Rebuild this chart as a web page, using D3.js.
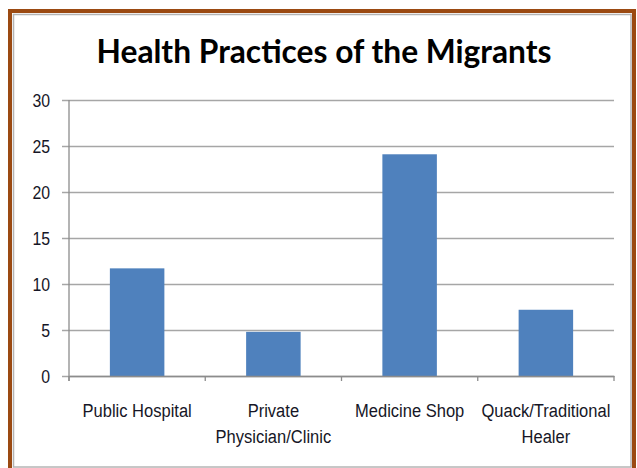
<!DOCTYPE html>
<html>
<head>
<meta charset="utf-8">
<script src="https://cdn.jsdelivr.net/npm/d3@7"></script>
<style>
  html, body { margin: 0; padding: 0; background: #fff; }
  svg { display: block; }
</style>
</head>
<body>
<svg id="chart" width="637" height="468"></svg>
<script>
const title = "Health Practices of the Migrants";
const categories = ["Public Hospital", "Private Physician/Clinic", "Medicine Shop", "Quack/Traditional Healer"];
const categoryLines = [["Public Hospital"], ["Private", "Physician/Clinic"], ["Medicine Shop"], ["Quack/Traditional", "Healer"]];
const values = [11.7, 4.8, 24.1, 7.2];
const yTicks = [0, 5, 10, 15, 20, 25, 30];

const svg = d3.select("#chart");
const W = 637, H = 468;

// frame
svg.append("rect").attr("x", 0).attr("y", 0).attr("width", W).attr("height", H).attr("fill", "#fff");
svg.append("rect").attr("x", 10).attr("y", 11).attr("width", 624).attr("height", 470)
  .attr("fill", "none").attr("stroke", "#9b4a12").attr("stroke-width", 4);
svg.append("rect").attr("x", 13.5).attr("y", 14.5).attr("width", 617.5).attr("height", 452.5)
  .attr("fill", "none").attr("stroke", "#b4b4b4").attr("stroke-width", 1.5);

const plot = { left: 69, right: 614, top: 100, bottom: 376 };

const x = d3.scaleBand().domain(categories).range([plot.left, plot.right]).paddingInner(0.6).paddingOuter(0.3);
const xb = d3.scaleBand().domain(categories).range([plot.left, plot.right]);
const y = d3.scaleLinear().domain([0, 30]).range([plot.bottom, plot.top]);

const font = "'Liberation Sans', Arial, sans-serif";
const textColor = "#161626";

// gridlines + y ticks
const yAxis = d3.axisLeft(y).tickValues(yTicks).tickSize(plot.right - plot.left + 7).tickFormat("");
const gy = svg.append("g").attr("transform", `translate(${plot.right},0)`).call(yAxis);
gy.select(".domain").remove();
gy.selectAll(".tick line").attr("stroke", "#a6a6a6").attr("stroke-width", 1.3);

// y axis line
svg.append("line").attr("x1", plot.left).attr("x2", plot.left).attr("y1", plot.top).attr("y2", plot.bottom + 5)
  .attr("stroke", "#8c8c8c").attr("stroke-width", 1.3);

// y tick labels
const yl = svg.append("g");
yTicks.forEach(t => {
  yl.append("text")
    .attr("transform", `translate(50,${y(t) + 6.5}) scale(0.88,1)`)
    .attr("text-anchor", "end")
    .attr("font-family", font).attr("font-size", 18).attr("fill", textColor)
    .text(t);
});

// bars
svg.append("g").selectAll("rect").data(values).join("rect")
  .attr("x", (d, i) => x(categories[i]))
  .attr("width", x.bandwidth())
  .attr("y", d => y(d))
  .attr("height", d => y(0) - y(d))
  .attr("fill", "#4f81bd");

// x axis
const xAxis = d3.axisBottom(xb).tickSize(0).tickFormat("");
svg.append("g").attr("transform", `translate(0,${plot.bottom})`).call(xAxis)
  .select(".domain").attr("stroke", "#8c8c8c").attr("stroke-width", 1.3);
const bounds = categories.map(c => xb(c)).concat([plot.right]);
svg.append("g").selectAll("line").data(bounds).join("line")
  .attr("x1", d => d).attr("x2", d => d)
  .attr("y1", plot.bottom).attr("y2", plot.bottom + 5)
  .attr("stroke", "#8c8c8c").attr("stroke-width", 1.3);

// category labels
const cl = svg.append("g");
categoryLines.forEach((lines, i) => {
  const cx = xb(categories[i]) + xb.bandwidth() / 2;
  lines.forEach((ln, j) => {
    cl.append("text")
      .attr("transform", `translate(${cx},${417 + j * 25.5}) scale(0.87,1)`)
      .attr("text-anchor", "middle")
      .attr("font-family", font).attr("font-size", 19).attr("fill", textColor)
      .text(ln);
  });
});

// title
svg.append("text")
  .attr("x", 324).attr("y", 63)
  .attr("text-anchor", "middle")
  .attr("font-family", "Lato, 'Open Sans', sans-serif").attr("font-weight", "bold")
  .attr("font-size", 32).attr("fill", "#000")
  .attr("textLength", 455).attr("lengthAdjust", "spacingAndGlyphs")
  .text(title);
</script>
</body>
</html>
